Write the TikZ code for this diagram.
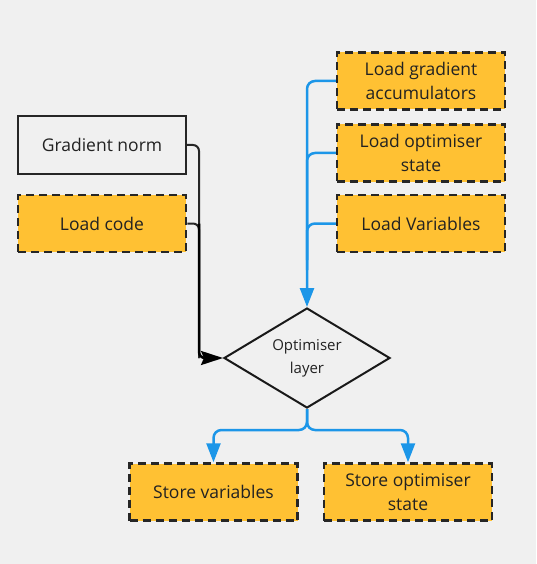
\documentclass[tikz,border=0pt]{standalone}
\usepackage{fontspec}
\setmainfont{Open Sans}
\usetikzlibrary{arrows.meta,shapes.geometric}
\definecolor{bg}{HTML}{F0F0F0}
\definecolor{gold}{HTML}{FFC133}
\definecolor{flowblue}{HTML}{1C96E8}
\definecolor{txt}{HTML}{222222}
\tikzset{
  box/.style={draw=black!85, line width=2pt, minimum width=168pt, minimum height=57pt, inner sep=0pt, align=center, font=\fontsize{17.5}{24}\selectfont, text=txt},
  loadbox/.style={box, fill=gold, line width=2.5pt, dash pattern=on 8pt off 5pt},
  plainbox/.style={box, fill=bg},
  decision/.style={diamond, draw=black!90, line width=2pt, minimum width=166pt, minimum height=100pt, inner sep=0pt, aspect=1.66, align=center, font=\fontsize{15}{23}\selectfont, text=txt},
  blueflow/.style={draw=flowblue, line width=2.5pt, rounded corners=8pt, -{Triangle[length=19pt,width=14pt]}},
  blueline/.style={draw=flowblue, line width=2.5pt, rounded corners=8pt},
  blackflow/.style={draw=black, line width=2.5pt, rounded corners=6pt, -{Stealth[length=22pt,width=14pt,inset=3pt]}},
  blackline/.style={draw=black!85, line width=2pt, rounded corners=6pt},
}
\begin{document}
\begin{tikzpicture}[x=1pt,y=-1pt]
\fill[bg] (0,0) rectangle (536,564);
\useasboundingbox (0,0) rectangle (536,564);

\node[plainbox] (gn) at (102,145) {Gradient norm};
\node[loadbox] (lc) at (102,223.5) {Load code};
\node[loadbox] (lga) at (421,81) {Load gradient\\accumulators};
\node[loadbox] (los) at (421,153) {Load optimiser\\state};
\node[loadbox] (lv) at (421,223.5) {Load Variables};
\node[decision] (ol) at (307,358) {Optimiser\\layer};
\node[loadbox] (sv) at (213.5,492) {Store variables};
\node[loadbox] (sos) at (408,492) {Store optimiser\\state};

\coordinate (bj) at (199,358);
\draw[blackline] (gn.east) -| (bj);
\draw[blackline] (lc.east) -| (bj);
\draw[blackflow] (bj |- lc.east) |- (ol.west);

\draw[blueflow] (lga.west) -| (ol.north);
\draw[blueline] (los.west) -| (307,260);
\draw[blueline] (lv.west) -| (307,270);

\coordinate (dj) at (307,430);
\draw[blueflow] (ol.south) |- (dj) -| (sv.north);
\draw[blueflow] (ol.south) |- (dj) -| (sos.north);
\end{tikzpicture}
\end{document}
